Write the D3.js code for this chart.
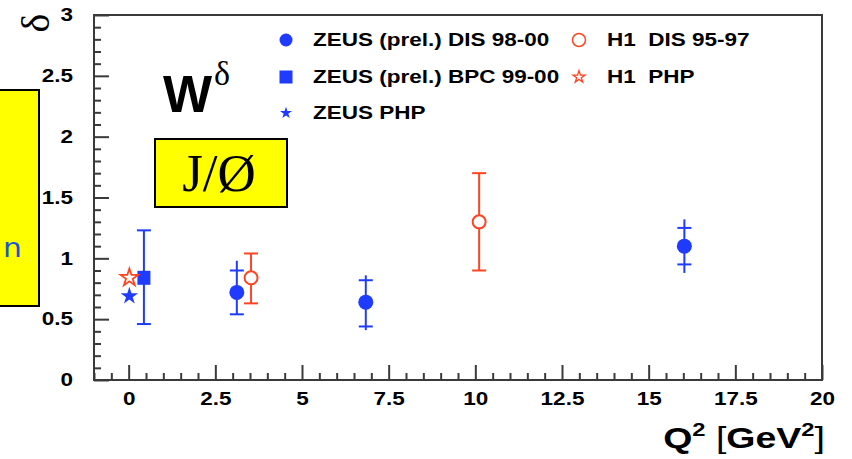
<!DOCTYPE html>
<html>
<head>
<meta charset="utf-8">
<script src="https://cdn.jsdelivr.net/npm/d3@7"></script>
<style>
  html, body { margin: 0; padding: 0; background: #fff; }
  svg { display: block; }
</style>
</head>
<body>
<svg id="chart" width="852" height="459"></svg>
<script>
// ZEUS DIS 98-00 (preliminary): W^delta vs Q^2 with stat and total errors
const zeusDisQ2 = [3.12, 6.84, 16.03];
const zeusDisDelta = [0.72, 0.64, 1.10];
const zeusDisStatLo = [0.54, 0.44, 0.95];
const zeusDisStatHi = [0.90, 0.82, 1.25];
const zeusDisTotLo = [0.54, 0.41, 0.88];
const zeusDisTotHi = [0.98, 0.86, 1.32];

// ZEUS BPC 99-00 (preliminary)
const zeusBpcQ2 = [0.44];
const zeusBpcDelta = [0.84];
const zeusBpcLo = [0.46];
const zeusBpcHi = [1.23];

// ZEUS photoproduction
const zeusPhpQ2 = [0.02];
const zeusPhpDelta = [0.69];

// H1 DIS 95-97
const h1DisQ2 = [3.53, 10.11];
const h1DisDelta = [0.84, 1.30];
const h1DisLo = [0.63, 0.90];
const h1DisHi = [1.04, 1.70];

// H1 photoproduction
const h1PhpQ2 = [0.02];
const h1PhpDelta = [0.84];

// Axes
const xTicks = [0, 2.5, 5, 7.5, 10, 12.5, 15, 17.5, 20];
const xTickLabels = ["0", "2.5", "5", "7.5", "10", "12.5", "15", "17.5", "20"];
const yTicks = [0, 0.5, 1, 1.5, 2, 2.5, 3];
const yTickLabels = ["0", "0.5", "1", "1.5", "2", "2.5", "3"];

// Legend entries
const legendLabels = ["ZEUS (prel.) DIS 98-00", "ZEUS (prel.) BPC 99-00", "ZEUS PHP", "H1  DIS 95-97", "H1  PHP"];

const BLUE = "#1f3bff";
const RED = "#ff4422";
const FRAME = "#3a3a3a";
const SANS = "Liberation Sans, Arial, Helvetica, sans-serif";
const SERIF = "Liberation Serif, Times New Roman, serif";
const WIDE = 1.25; // horizontal stretch of the bold labels

const svg = d3.select("#chart");
const L = 94, R = 822, T = 15, B = 380;

const x = d3.scaleLinear().domain([-1, 20]).range([L, R]);
const y = d3.scaleLinear().domain([0, 3]).range([B, T]);

// Side panel (yellow box, partly cut off at the left edge)
svg.append("rect").attr("x", -3).attr("y", 90).attr("width", 42).attr("height", 216)
  .attr("fill", "#ffff00").attr("stroke", "#000").attr("stroke-width", 2);
svg.append("text").attr("transform", "translate(3,257) scale(1.1,1)").attr("text-anchor", "start")
  .style("font-family", "DejaVu Sans, sans-serif").style("font-size", "27px")
  .attr("fill", "#1a55d6").text("n");

// Frame
svg.append("rect").attr("x", L).attr("y", T).attr("width", R - L).attr("height", B - T)
  .attr("fill", "none").attr("stroke", FRAME).attr("stroke-width", 2);

// Minor ticks
const yMinor = d3.range(0, 3.0001, 0.1).filter(v => Math.abs(v * 2 - Math.round(v * 2)) > 1e-6);
const xMinor = d3.range(-1, 20.0001, 0.5).filter(v => Math.abs(v / 2.5 - Math.round(v / 2.5)) > 1e-6);

const yMinorAxis = svg.append("g").attr("transform", `translate(${L},0)`)
  .call(d3.axisLeft(y).tickValues(yMinor).tickSize(-7).tickFormat(""));
const xMinorAxis = svg.append("g").attr("transform", `translate(0,${B})`)
  .call(d3.axisBottom(x).tickValues(xMinor).tickSize(-7).tickFormat(""));

// Major ticks with labels
const yAxis = svg.append("g").attr("transform", `translate(${L},0)`)
  .call(d3.axisLeft(y).tickValues(yTicks).tickSize(-15).tickPadding(20)
    .tickFormat((d, i) => yTickLabels[i]));
const xAxis = svg.append("g").attr("transform", `translate(0,${B})`)
  .call(d3.axisBottom(x).tickValues(xTicks).tickSize(-15).tickPadding(12)
    .tickFormat((d, i) => xTickLabels[i]));

[yMinorAxis, xMinorAxis, yAxis, xAxis].forEach(g => {
  g.select(".domain").remove();
  g.selectAll(".tick line").attr("stroke", FRAME).attr("stroke-width", 2);
  g.selectAll(".tick text").style("font-size", "18px").style("font-weight", "bold")
    .style("font-family", SANS).attr("fill", "#000");
});
xAxis.selectAll(".tick text").attr("transform", `scale(${WIDE},1)`);
yAxis.selectAll(".tick text").attr("x", -21 / WIDE).attr("transform", `scale(${WIDE},1)`);

// Axis titles
svg.append("text").attr("transform", "translate(35,23) rotate(-90)")
  .attr("text-anchor", "middle").attr("dominant-baseline", "central")
  .style("font-family", SERIF).style("font-size", "40px").text("δ");

const xt = svg.append("text").attr("transform", `translate(825,448) scale(${WIDE},1)`)
  .attr("text-anchor", "end").style("font-family", SANS)
  .style("font-weight", "bold").style("font-size", "30px");
xt.append("tspan").text("Q");
xt.append("tspan").style("font-size", "19px").attr("dy", -12).text("2");
xt.append("tspan").attr("dy", 12).style("font-weight", "normal").text(" [");
xt.append("tspan").text("GeV");
xt.append("tspan").style("font-size", "19px").attr("dy", -12).text("2");
xt.append("tspan").attr("dy", 12).style("font-weight", "normal").text("]");

// W^delta annotation
const wt = svg.append("text").attr("x", 163).attr("y", 112).style("font-family", SANS);
wt.append("tspan").style("font-weight", "bold").style("font-size", "52px").text("W");
wt.append("tspan").style("font-family", SERIF)
  .style("font-size", "34px").attr("dx", 2).attr("dy", -27).text("δ");

// J/psi box
svg.append("rect").attr("x", 155).attr("y", 139).attr("width", 132).attr("height", 68)
  .attr("fill", "#ffff00").attr("stroke", "#000").attr("stroke-width", 2);
svg.append("text").attr("x", 219).attr("y", 191).attr("text-anchor", "middle")
  .style("font-family", SERIF).style("font-size", "53px").text("J/Ø");

// Error bar helper
const CAP = 7;
function errBar(g, xv, lo, hi, color, caps) {
  g.append("line").attr("x1", x(xv)).attr("x2", x(xv)).attr("y1", y(lo)).attr("y2", y(hi))
    .attr("stroke", color).attr("stroke-width", 2);
  caps.forEach(c => {
    g.append("line").attr("x1", x(xv) - CAP).attr("x2", x(xv) + CAP)
      .attr("y1", y(c)).attr("y2", y(c)).attr("stroke", color).attr("stroke-width", 2);
  });
}

const marks = svg.append("g");

// H1 DIS
h1DisQ2.forEach((q, i) => errBar(marks, q, h1DisLo[i], h1DisHi[i], RED, [h1DisLo[i], h1DisHi[i]]));
marks.selectAll(".h1dis").data(h1DisQ2).join("circle")
  .attr("cx", d => x(d)).attr("cy", (d, i) => y(h1DisDelta[i])).attr("r", 6.5)
  .attr("fill", "#fff").attr("stroke", RED).attr("stroke-width", 2);

// ZEUS BPC
zeusBpcQ2.forEach((q, i) => errBar(marks, q, zeusBpcLo[i], zeusBpcHi[i], BLUE, [zeusBpcLo[i], zeusBpcHi[i]]));
marks.selectAll(".bpc").data(zeusBpcQ2).join("rect")
  .attr("x", d => x(d) - 6.5).attr("y", (d, i) => y(zeusBpcDelta[i]) - 7)
  .attr("width", 13).attr("height", 14).attr("fill", BLUE);

// ZEUS DIS
zeusDisQ2.forEach((q, i) => errBar(marks, q, zeusDisTotLo[i], zeusDisTotHi[i], BLUE, [zeusDisStatLo[i], zeusDisStatHi[i]]));
marks.selectAll(".zdis").data(zeusDisQ2).join("circle")
  .attr("cx", d => x(d)).attr("cy", (d, i) => y(zeusDisDelta[i])).attr("r", 7.5)
  .attr("fill", BLUE);

// Photoproduction stars
const star = d3.symbol().type(d3.symbolStar);
marks.selectAll(".zphp").data(zeusPhpQ2).join("path")
  .attr("transform", (d, i) => `translate(${x(d)},${y(zeusPhpDelta[i])})`)
  .attr("d", star.size(95)()).attr("fill", BLUE);
marks.selectAll(".h1php").data(h1PhpQ2).join("path")
  .attr("transform", (d, i) => `translate(${x(d)},${y(h1PhpDelta[i])})`)
  .attr("d", star.size(95)()).attr("fill", "#fff").attr("stroke", RED).attr("stroke-width", 1.8);

// Legend
const leg = svg.append("g");
const legPos = [[286, 40], [286, 77], [286, 113], [579, 40], [579, 77]];
leg.append("circle").attr("cx", legPos[0][0]).attr("cy", legPos[0][1]).attr("r", 6.5).attr("fill", BLUE);
leg.append("rect").attr("x", legPos[1][0] - 6.5).attr("y", legPos[1][1] - 6.5)
  .attr("width", 13).attr("height", 13).attr("fill", BLUE);
leg.append("path").attr("transform", `translate(${legPos[2][0]},${legPos[2][1]})`)
  .attr("d", d3.symbol().type(d3.symbolStar).size(45)()).attr("fill", BLUE);
leg.append("circle").attr("cx", legPos[3][0]).attr("cy", legPos[3][1]).attr("r", 6.5)
  .attr("fill", "#fff").attr("stroke", RED).attr("stroke-width", 1.5);
leg.append("path").attr("transform", `translate(${legPos[4][0]},${legPos[4][1]})`)
  .attr("d", d3.symbol().type(d3.symbolStar).size(45)()).attr("fill", "#fff")
  .attr("stroke", RED).attr("stroke-width", 1.3);
legendLabels.forEach((t, i) => {
  leg.append("text")
    .attr("transform", `translate(${legPos[i][0] + (i < 3 ? 27 : 28)},${legPos[i][1]}) scale(${WIDE},1)`)
    .attr("dominant-baseline", "central").style("font-family", SANS)
    .style("font-weight", "bold").style("font-size", "18px")
    .style("white-space", "pre").text(t);
});
</script>
</body>
</html>
